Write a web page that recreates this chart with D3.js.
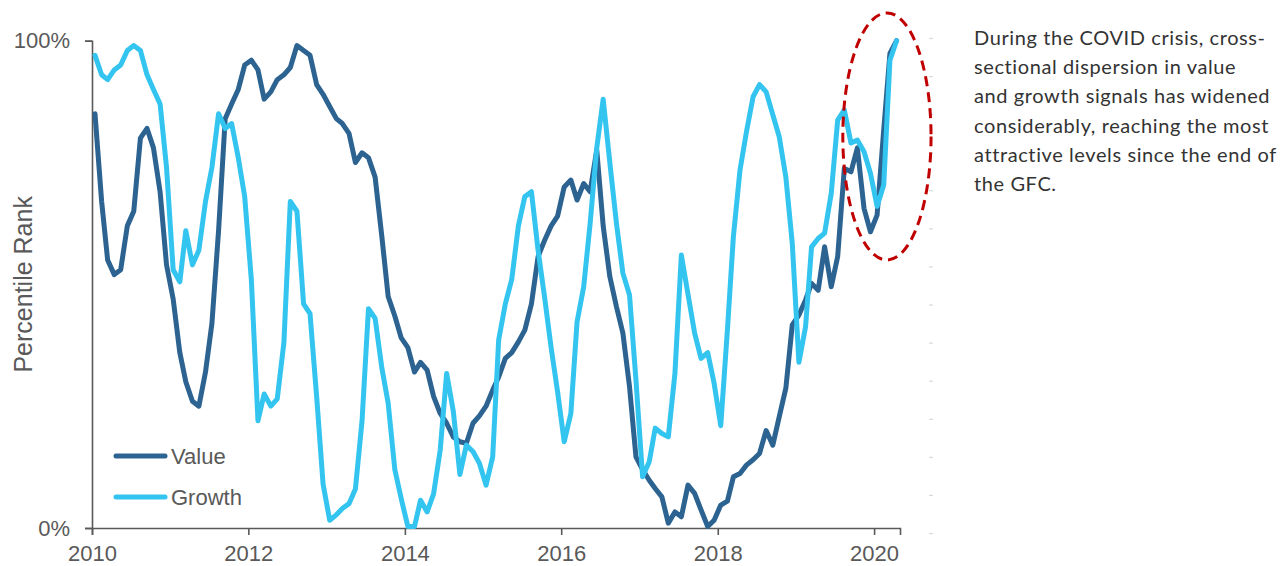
<!DOCTYPE html>
<html>
<head>
<meta charset="utf-8">
<script src="https://cdn.jsdelivr.net/npm/d3@7"></script>
<style>
  body { margin: 0; background: #fff; }
  svg { display: block; }
</style>
</head>
<body>
<div class="chart-wrapper"></div>
<script>
// monthly percentile ranks, one point per month starting Jan 2010
const startYear = 2010;
const valueRank = [
  85, 67, 55, 52, 53, 62, 65, 80, 82, 78, 69, 54,
  47, 36, 30, 26, 25, 32, 42, 61, 84, 87, 90, 95,
  96, 94, 88, 89.5, 92, 93, 94.5, 99, 98, 97, 91, 89,
  86.5, 84, 83, 81, 75, 77, 76, 72, 60, 47.5, 43.5, 39,
  37, 32, 34, 32.4, 27, 23.5, 21.5, 18.7, 17.7, 17.4, 21.5, 23,
  25, 28.3, 31, 34.8, 36, 38.2, 40.6, 46, 55.7, 59, 62, 64,
  70, 71.4, 67.3, 70.7, 69, 77.6, 62, 51.6, 45.4, 40, 29, 14.6,
  12, 9.8, 8.1, 6.4, 1, 3.3, 2.3, 8.8, 7.1, 3.7, 0.3, 1.6,
  4.7, 5.5, 10.5, 11.2, 12.9, 14, 15.3, 20, 17, 22.8, 28.7, 41.7,
  43.7, 46.8, 50.2, 48.8, 57.7, 49.5, 55.7, 73.8, 73.1, 78, 65.6, 60.8,
  64.2, 81.7, 97.4, 100
];
const growthRank = [
  97, 93, 92, 94, 95, 98, 99, 98, 93, 90, 87, 74,
  53, 50.5, 61, 54, 57, 67, 74, 85, 82, 83, 76, 68,
  51, 22, 27.5, 25, 26.5, 38, 67, 65, 46, 44, 27, 9,
  1.6, 2.7, 4, 5, 8, 22, 45, 43, 33, 25.6, 12, 6,
  0.3, 0.3, 5.7, 3.3, 7, 16, 31.7, 24, 11, 17, 15.7, 13.3,
  8.8, 14.6, 38.6, 46, 51, 62, 68, 69, 57, 47.5, 37, 28,
  17.7, 23.5, 42.3, 49.5, 62.5, 78, 88, 75, 62.5, 52.3, 47.8, 30.4,
  10.5, 13.6, 20.5, 19.4, 18.7, 31.7, 56, 48, 40, 34.8, 36, 29.7,
  21, 40.6, 59.8, 73.5, 81.3, 88.5, 91, 89.5, 84.8, 80.3, 72, 58.4,
  34, 41.3, 57.7, 59.4, 60.5, 68.7, 83.7, 85.8, 79, 79.6, 77.2, 72.8,
  66, 70.4, 96, 100
];
const seriesNames = ['Value', 'Growth'];
const seriesColors = ['#2c6391', '#33c4ef'];
const yTicks = [0, 100];
const yTitle = 'Percentile Rank';
const noteLines = [
  'During the COVID crisis, cross-',
  'sectional dispersion in value',
  'and growth signals has widened',
  'considerably, reaching the most',
  'attractive levels since the end of',
  'the GFC.'
];
// COVID highlight: bounds in decimal years and percentile
const covidYears = [2019.6, 2020.73];
const covidRanks = [55, 105.7];

const W = 1282, H = 566;
const margin = {top: 40.7, right: 382, bottom: 38, left: 92};
const grey = '#595959';

const svg = d3.select('.chart-wrapper')
  .append('svg')
  .attr('width', W)
  .attr('height', H)
  .attr('viewBox', `0 0 ${W} ${H}`);

const x = d3.scaleTime()
  .domain([new Date(2010, 0, 1), new Date(2020, 4, 1)])
  .range([margin.left, W - margin.right]);

const y = d3.scaleLinear()
  .domain([0, 100])
  .range([H - margin.bottom, margin.top]);

const toDate = yr => new Date(Math.floor(yr), 0, 1 + Math.round((yr % 1) * 365));
const monthDate = i => new Date(startYear, i, 15);

// faint ticks on the right (unlabelled secondary axis)
const rightScale = d3.scaleLinear().domain([0, 13]).range([533, 38]);
const rightAxis = svg.append('g')
  .attr('transform', 'translate(929,0)')
  .call(d3.axisRight(rightScale).tickValues(d3.range(14)).tickSize(4).tickFormat(''));
rightAxis.select('.domain').remove();
rightAxis.selectAll('line').attr('stroke', '#d9d9d9').attr('stroke-width', 1.2);

// X axis
const xAxis = svg.append('g')
  .attr('transform', `translate(0,${H - margin.bottom})`)
  .call(d3.axisBottom(x)
    .ticks(d3.timeYear.every(2))
    .tickFormat(d3.timeFormat('%Y'))
    .tickSizeOuter(0)
    .tickSize(7)
    .tickPadding(10));
xAxis.select('.domain').attr('stroke', grey).attr('stroke-width', 1.6);
xAxis.selectAll('.tick line').attr('stroke', grey).attr('stroke-width', 1.6);
xAxis.selectAll('text')
  .attr('fill', grey)
  .style('font-family', '"Liberation Sans", Arial, sans-serif')
  .style('font-size', '22px');

// Y axis
const yAxis = svg.append('g')
  .attr('transform', `translate(${margin.left},0)`)
  .call(d3.axisLeft(y)
    .tickValues(yTicks)
    .tickFormat(d => d + '%')
    .tickSizeOuter(0)
    .tickSize(7)
    .tickPadding(15));
yAxis.select('.domain').attr('stroke', grey).attr('stroke-width', 1.6);
yAxis.selectAll('.tick line').attr('stroke', grey).attr('stroke-width', 1.6);
yAxis.selectAll('text')
  .attr('fill', grey)
  .style('font-family', '"Liberation Sans", Arial, sans-serif')
  .style('font-size', '22px');

svg.append('text')
  .attr('transform', `translate(32,${(y(0) + y(100)) / 2}) rotate(-90)`)
  .attr('text-anchor', 'middle')
  .attr('fill', grey)
  .style('font-family', '"Liberation Sans", Arial, sans-serif')
  .style('font-size', '25px')
  .text(yTitle);

// lines
const line = d3.line()
  .x((d, i) => x(monthDate(i)))
  .y(d => y(d));

[valueRank, growthRank].forEach((data, k) => {
  svg.append('path')
    .datum(data)
    .attr('fill', 'none')
    .attr('stroke', seriesColors[k])
    .attr('stroke-width', 5)
    .attr('stroke-linejoin', 'round')
    .attr('stroke-linecap', 'round')
    .attr('d', line);
});

// legend
const legendY = d3.scalePoint().domain(seriesNames).range([456, 497]);
const legend = svg.append('g');
seriesNames.forEach((name, k) => {
  legend.append('line')
    .attr('x1', 116).attr('x2', 165)
    .attr('y1', legendY(name)).attr('y2', legendY(name))
    .attr('stroke', seriesColors[k])
    .attr('stroke-width', 5)
    .attr('stroke-linecap', 'round');
  legend.append('text')
    .attr('x', 171)
    .attr('y', legendY(name))
    .attr('dy', '0.35em')
    .attr('fill', grey)
    .style('font-family', '"Liberation Sans", Arial, sans-serif')
    .style('font-size', '22px')
    .text(name);
});

// COVID ellipse
const ex0 = x(toDate(covidYears[0])), ex1 = x(toDate(covidYears[1]));
const ey0 = y(covidRanks[0]), ey1 = y(covidRanks[1]);
svg.append('ellipse')
  .attr('cx', (ex0 + ex1) / 2)
  .attr('cy', (ey0 + ey1) / 2)
  .attr('rx', Math.abs(ex1 - ex0) / 2)
  .attr('ry', Math.abs(ey0 - ey1) / 2)
  .attr('fill', 'none')
  .attr('stroke', '#c00000')
  .attr('stroke-width', 3)
  .attr('stroke-dasharray', '10,6');

// side note
const note = svg.append('text')
  .attr('x', 974)
  .attr('y', 45)
  .attr('fill', '#333333')
  .style('font-family', 'Lato, sans-serif')
  .style('font-size', '20px')
  .style('letter-spacing', '0.6px');
note.selectAll('tspan')
  .data(noteLines)
  .join('tspan')
  .attr('x', 974)
  .attr('dy', (d, i) => i === 0 ? 0 : 29.2)
  .text(d => d);
</script>
</body>
</html>
